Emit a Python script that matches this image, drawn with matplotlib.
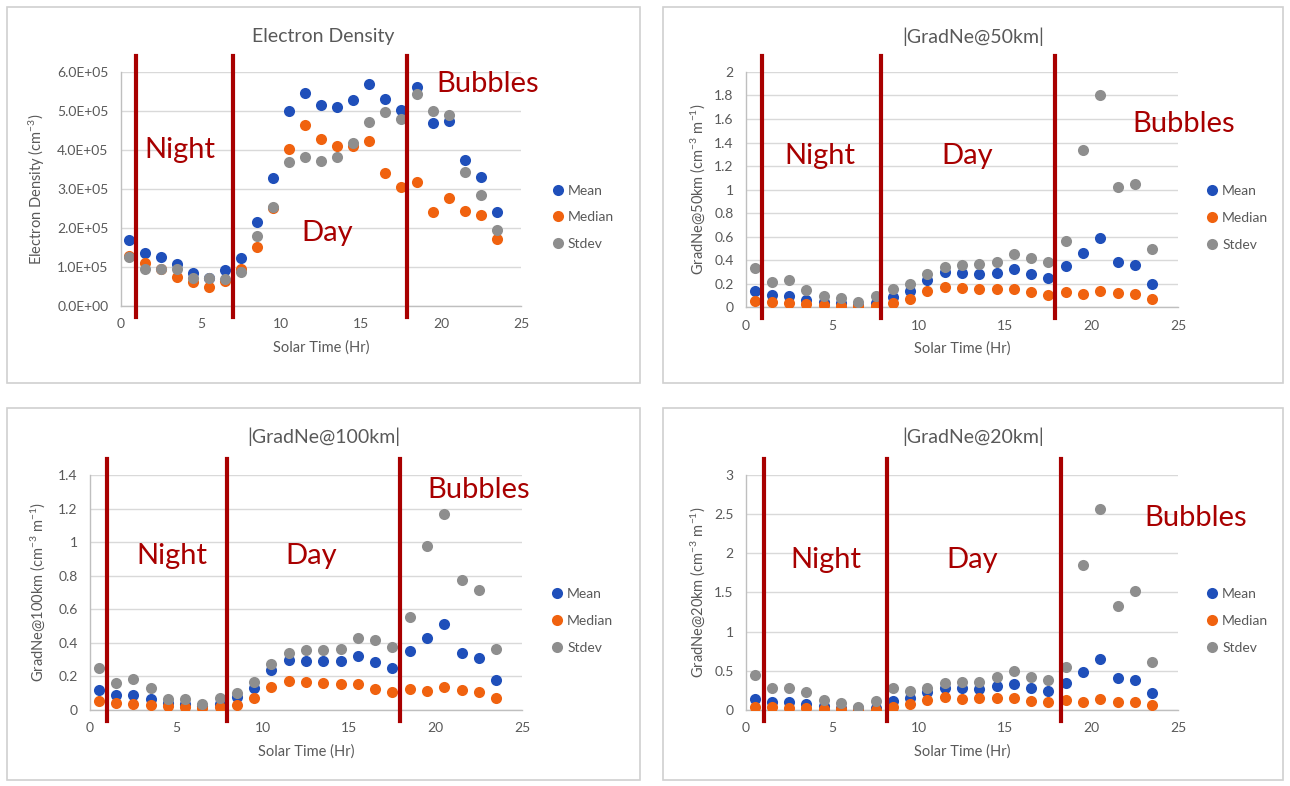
"""
Ionospheric irregularity statistics vs. solar time: electron density and
|grad Ne| at three baselines, with night / day / bubble regions marked.

Outputs: out.png
"""

import matplotlib
matplotlib.use("Agg")
import matplotlib.pyplot as plt
from matplotlib.patches import Rectangle
from matplotlib.ticker import FuncFormatter, MultipleLocator

# ── Style ────────────────────────────────────────────────────────────────
plt.rcParams["font.family"] = ["Lato", "DejaVu Sans"]
plt.rcParams["mathtext.default"] = "regular"

MEAN_COLOR = "#1F4FBA"
MEDIAN_COLOR = "#F0620F"
STDEV_COLOR = "#8E8E8E"
REGION_RED = "#A80000"
TEXT_GRAY = "#595959"
GRID_GRAY = "#D9D9D9"

# ── Data ─────────────────────────────────────────────────────────────────
solar_hours = [0.5, 1.5, 2.5, 3.5, 4.5, 5.5, 6.5, 7.5, 8.5, 9.5, 10.5, 11.5,
               12.5, 13.5, 14.5, 15.5, 16.5, 17.5, 18.5, 19.5, 20.5, 21.5,
               22.5, 23.5]

# Electron density (cm^-3)
ne_mean = [1.69e5, 1.36e5, 1.25e5, 1.07e5, 0.84e5, 0.72e5, 0.92e5, 1.22e5,
           2.16e5, 3.28e5, 4.99e5, 5.46e5, 5.15e5, 5.09e5, 5.27e5, 5.70e5,
           5.30e5, 5.03e5, 5.61e5, 4.68e5, 4.74e5, 3.74e5, 3.32e5, 2.42e5]
ne_median = [1.27e5, 1.11e5, 0.94e5, 0.74e5, 0.61e5, 0.49e5, 0.65e5, 0.96e5,
             1.52e5, 2.50e5, 4.03e5, 4.65e5, 4.27e5, 4.09e5, 4.10e5, 4.23e5,
             3.41e5, 3.04e5, 3.17e5, 2.41e5, 2.76e5, 2.44e5, 2.34e5, 1.73e5]
ne_stdev = [1.26e5, 0.96e5, 0.96e5, 0.96e5, 0.72e5, 0.71e5, 0.69e5, 0.88e5,
            1.80e5, 2.53e5, 3.70e5, 3.83e5, 3.71e5, 3.83e5, 4.18e5, 4.72e5,
            4.97e5, 4.80e5, 5.44e5, 4.99e5, 4.89e5, 3.43e5, 2.84e5, 1.95e5]

# |GradNe| over a 50 km baseline
g50_mean = [0.137, 0.100, 0.090, 0.063, 0.040, 0.030, 0.020, 0.035, 0.085,
            0.140, 0.230, 0.300, 0.290, 0.285, 0.290, 0.320, 0.285, 0.245,
            0.350, 0.460, 0.585, 0.385, 0.355, 0.200]
g50_median = [0.050, 0.043, 0.034, 0.026, 0.014, 0.008, 0.005, 0.006, 0.034,
              0.068, 0.137, 0.170, 0.165, 0.156, 0.156, 0.156, 0.125, 0.100,
              0.125, 0.110, 0.140, 0.120, 0.110, 0.070]
g50_stdev = [0.335, 0.213, 0.228, 0.148, 0.094, 0.080, 0.045, 0.090, 0.154,
             0.196, 0.280, 0.344, 0.358, 0.367, 0.380, 0.447, 0.420, 0.380,
             0.560, 1.340, 1.800, 1.020, 1.047, 0.490]

# |GradNe| over a 100 km baseline
g100_mean = [0.119, 0.087, 0.087, 0.063, 0.044, 0.034, 0.024, 0.034, 0.077,
             0.130, 0.240, 0.295, 0.293, 0.289, 0.289, 0.320, 0.285, 0.250,
             0.352, 0.430, 0.513, 0.340, 0.307, 0.178]
g100_median = [0.053, 0.042, 0.038, 0.028, 0.024, 0.018, 0.012, 0.016, 0.032,
               0.071, 0.137, 0.172, 0.164, 0.158, 0.154, 0.156, 0.127, 0.107,
               0.127, 0.113, 0.137, 0.119, 0.109, 0.071]
g100_stdev = [0.251, 0.162, 0.182, 0.131, 0.065, 0.063, 0.038, 0.069, 0.103,
              0.168, 0.273, 0.340, 0.356, 0.356, 0.366, 0.428, 0.416, 0.376,
              0.556, 0.976, 1.166, 0.772, 0.717, 0.366]

# |GradNe| over a 20 km baseline
g20_mean = [0.145, 0.100, 0.100, 0.077, 0.045, 0.030, 0.020, 0.030, 0.120,
            0.153, 0.225, 0.285, 0.280, 0.272, 0.300, 0.330, 0.277, 0.247,
            0.340, 0.485, 0.647, 0.404, 0.387, 0.217]
g20_median = [0.040, 0.034, 0.030, 0.020, 0.017, 0.010, 0.004, 0.004, 0.034,
              0.077, 0.128, 0.166, 0.145, 0.149, 0.157, 0.149, 0.120, 0.106,
              0.128, 0.106, 0.136, 0.106, 0.106, 0.064]
g20_stdev = [0.447, 0.277, 0.285, 0.225, 0.128, 0.085, 0.043, 0.120, 0.285,
             0.247, 0.277, 0.345, 0.353, 0.362, 0.417, 0.494, 0.417, 0.379,
             0.553, 1.855, 2.566, 1.328, 1.519, 0.613]

# Region boundaries (solar hour) for each panel
ne_bounds = [0.94, 6.98, 17.88]
g50_bounds = [0.94, 7.79, 17.9]
g100_bounds = [1.0, 7.9, 17.95]
g20_bounds = [1.03, 8.15, 18.2]

region_names = ["Night", "Day", "Bubbles"]


def sci_fmt(v, _pos):
    return f"{v:.1E}"


def plain_fmt(v, _pos):
    return f"{round(v, 6):g}"


PANELS = [
    dict(title="Electron Density",
         ylabel="Electron Density (cm$^{-3}$)",
         series=(ne_mean, ne_median, ne_stdev), bounds=ne_bounds,
         ymax=6e5, ystep=1e5, fmt=sci_fmt,
         axes=[0.0938, 0.6107, 0.3101, 0.2977], box=[0.0054, 0.5127, 0.4907, 0.4784],
         ylabel_x=-0.185, legend_x=1.085, title_y=0.953,
         labels=[(3.7, 4.0e5), (12.9, 1.87e5), (22.9, 5.7e5)]),
    dict(title="|GradNe@50km|",
         ylabel="GradNe@50km (cm$^{-3}$ m$^{-1}$)",
         series=(g50_mean, g50_median, g50_stdev), bounds=g50_bounds,
         ymax=2.0, ystep=0.2, fmt=plain_fmt,
         axes=[0.5783, 0.6094, 0.3349, 0.2990], box=[0.5140, 0.5127, 0.4806, 0.4784],
         ylabel_x=-0.09, legend_x=1.074, title_y=0.953,
         labels=[(4.3, 1.285), (12.8, 1.285), (25.3, 1.56)]),
    dict(title="|GradNe@100km|",
         ylabel="GradNe@100km (cm$^{-3}$ m$^{-1}$)",
         series=(g100_mean, g100_median, g100_stdev), bounds=g100_bounds,
         ymax=1.4, ystep=0.2, fmt=plain_fmt,
         axes=[0.0698, 0.0967, 0.3349, 0.2990], box=[0.0054, 0.0076, 0.4907, 0.4733],
         ylabel_x=-0.10, legend_x=1.076, title_y=0.444,
         labels=[(4.74, 0.917), (12.8, 0.917), (22.5, 1.31)]),
    dict(title="|GradNe@20km|",
         ylabel="GradNe@20km (cm$^{-3}$ m$^{-1}$)",
         series=(g20_mean, g20_median, g20_stdev), bounds=g20_bounds,
         ymax=3.0, ystep=0.5, fmt=plain_fmt,
         axes=[0.5783, 0.0967, 0.3349, 0.2990], box=[0.5140, 0.0076, 0.4806, 0.4733],
         ylabel_x=-0.09, legend_x=1.074, title_y=0.444,
         labels=[(4.6, 1.92), (13.1, 1.92), (26.0, 2.45)]),
]


def draw_panel(fig, p):
    ax = fig.add_axes(p["axes"])

    # Panel frame around the whole chart area
    bx, by, bw, bh = p["box"]
    fig.add_artist(Rectangle((bx, by), bw, bh, transform=fig.transFigure,
                             fill=False, edgecolor="#D0D0D0", lw=1.2))

    mean, median, stdev = p["series"]
    for vals, color, name in ((mean, MEAN_COLOR, "Mean"),
                              (median, MEDIAN_COLOR, "Median"),
                              (stdev, STDEV_COLOR, "Stdev")):
        ax.plot(solar_hours, vals, linestyle="none", marker="o", markersize=8,
                markeredgewidth=0, color=color, label=name, zorder=3)

    # Region separators, extending a little past the plot area
    for b in p["bounds"]:
        ax.axvline(b, ymin=-0.045, ymax=1.07, color=REGION_RED, lw=3.0,
                   clip_on=False, zorder=5)
    for name, (tx, ty) in zip(region_names, p["labels"]):
        ax.text(tx, ty, name, color=REGION_RED, fontsize=21,
                ha="center", va="center", zorder=6)

    ax.set_xlim(0, 25)
    ax.set_ylim(0, p["ymax"])
    ax.xaxis.set_major_locator(MultipleLocator(5))
    ax.yaxis.set_major_locator(MultipleLocator(p["ystep"]))
    ax.yaxis.set_major_formatter(FuncFormatter(p["fmt"]))

    ax.grid(axis="y", color=GRID_GRAY, lw=1.0, zorder=0)
    ax.set_axisbelow(True)
    for side in ("top", "right"):
        ax.spines[side].set_visible(False)
    for side in ("left", "bottom"):
        ax.spines[side].set_color("#BFBFBF")
        ax.spines[side].set_linewidth(1.0)
    ax.tick_params(length=0, labelsize=10, colors=TEXT_GRAY)
    ax.tick_params(axis="y", pad=9)
    ax.tick_params(axis="x", pad=9)

    ax.set_xlabel("Solar Time (Hr)", fontsize=10.5, color=TEXT_GRAY, labelpad=7)
    ax.set_ylabel(p["ylabel"], fontsize=10.5, color=TEXT_GRAY)
    ax.yaxis.set_label_coords(p["ylabel_x"], 0.5)

    fig.text(bx + bw / 2, p["title_y"], p["title"], fontsize=14,
             color=TEXT_GRAY, ha="center", va="center")

    leg = ax.legend(loc="center left", bbox_to_anchor=(p["legend_x"] - 0.02, 0.379),
                    frameon=False, fontsize=10, handlelength=0.8,
                    handletextpad=0.3, labelspacing=1.05, borderaxespad=0)
    for t in leg.get_texts():
        t.set_color(TEXT_GRAY)
    return ax


def plot():
    fig = plt.figure(figsize=(12.9, 7.86), dpi=100)
    fig.patch.set_facecolor("white")
    for p in PANELS:
        draw_panel(fig, p)
    fig.savefig("out.png", dpi=100, facecolor="white")
    return fig


if __name__ == "__main__":
    plot()
